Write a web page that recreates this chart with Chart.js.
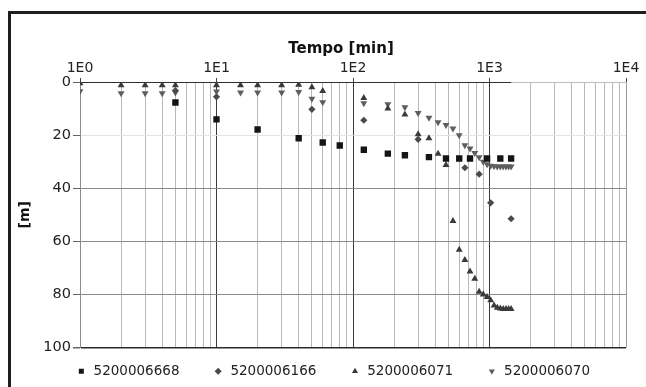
<!DOCTYPE html>
<html>
<head>
<meta charset="utf-8">
<script src="https://cdn.jsdelivr.net/npm/chart.js@4.4.1/dist/chart.umd.min.js"></script>
<style>
  html, body { margin: 0; padding: 0; background: #fff; overflow: hidden; }
  #frame { position: absolute; left: 8px; top: 11px; width: 720px; height: 420px; border: 3px solid #1e1e1e; }
  #chart { position: absolute; left: 0; top: 0; }
</style>
</head>
<body>
<div id="frame"></div>
<canvas id="chart" width="682" height="388"></canvas>
<script>
// well ids (legend)
const seriesNames = ['5200006668', '5200006166', '5200006071', '5200006070'];

// time [min] and depth [m]
const timeA = [5, 10, 20, 40, 60, 80, 120, 180, 240, 360, 480, 600, 720, 960, 1200, 1440];
const depthA = [7.7, 14.1, 17.9, 21.2, 22.8, 23.9, 25.5, 27, 27.6, 28.3, 28.8, 28.8, 28.8, 28.8, 28.8, 28.8];

const timeB = [5, 10, 50, 120, 300, 660, 840, 1020, 1440];
const depthB = [3.2, 5.6, 10.3, 14.4, 21.6, 32.3, 34.7, 45.5, 51.5];

const timeC = [1, 2, 3, 4, 5, 10, 15, 20, 30, 40, 50, 60, 120, 180, 240, 300, 360, 420, 480, 540,
  600, 660, 720, 780, 840, 900, 960, 1020, 1080, 1140, 1200, 1260, 1320, 1380, 1440];
const depthC = [0.5, 1.2, 1.2, 1.2, 1.2, 1.2, 1.2, 1.2, 1.2, 1.0, 2.0, 3.4, 6.0, 10.0, 12.2, 19.7, 21.2, 27.0, 31.3, 52.4,
  63.2, 67.0, 71.4, 74.1, 79.0, 80.0, 81.0, 82.2, 84.2, 85.0, 85.3, 85.5, 85.5, 85.5, 85.5];

const timeD = [1, 2, 3, 4, 5, 10, 15, 20, 30, 40, 50, 60, 120, 180, 240, 300, 360, 420, 480, 540,
  600, 660, 720, 780, 840, 900, 960, 1020, 1080, 1140, 1200, 1260, 1320, 1380, 1440];
const depthD = [3.5, 4.2, 4.2, 4.2, 4.0, 3.6, 4.0, 4.0, 4.0, 3.8, 6.3, 7.6, 8.0, 8.4, 9.5, 11.7, 13.5, 15.2, 16.2, 17.5,
  20.1, 23.8, 25.0, 26.7, 28.3, 30.0, 31.0, 31.5, 31.7, 31.8, 31.8, 31.8, 31.8, 31.8, 31.8];

// ground level line
const surfaceTime = [1, 1440];
const surfaceDepth = [0, 0];

// axes
const xDecades = [1, 10, 100, 1000];
const xSteps = [1, 2, 3, 4, 5, 6, 7, 8, 9];
const xMax = 10000;
const xTickLabels = ['1E0', '1E1', '1E2', '1E3', '1E4'];
const yTicks = [0, 20, 40, 60, 80, 100];

const xGrid = [];
xDecades.forEach(d => xSteps.forEach(s => xGrid.push(d * s)));
xGrid.push(xMax);

const points = (t, d) => t.map((x, i) => ({ x, y: d[i] }));
const isDecade = v => Math.abs(Math.log10(v) - Math.round(Math.log10(v))) < 1e-9;

Chart.defaults.font.family = 'DejaVu Sans';
Chart.defaults.color = '#222';

const legendGap = '\u2003\u2009';

new Chart(document.getElementById('chart'), {
  type: 'scatter',
  data: {
    datasets: [
      { label: seriesNames[0], data: points(timeA, depthA), pointStyle: 'rect', pointRadius: 4.5,
        backgroundColor: '#141414', borderWidth: 0, pointBorderWidth: 0 },
      { label: seriesNames[1], data: points(timeB, depthB), pointStyle: 'rectRot', pointRadius: 3.6,
        backgroundColor: '#4a4a4a', borderWidth: 0, pointBorderWidth: 0 },
      { label: seriesNames[2], data: points(timeC, depthC), pointStyle: 'triangle', pointRadius: 4,
        backgroundColor: '#3a3a3a', borderWidth: 0, pointBorderWidth: 0 },
      { label: seriesNames[3], data: points(timeD, depthD), pointStyle: 'triangle', pointRotation: 180, pointRadius: 4,
        backgroundColor: '#5e5e5e', borderWidth: 0, pointBorderWidth: 0 },
      { label: '', type: 'line', data: points(surfaceTime, surfaceDepth), showLine: true,
        borderColor: '#303030', borderWidth: 2, pointRadius: 0 }
    ]
  },
  options: {
    responsive: false,
    animation: false,
    layout: { padding: 0 },
    plugins: {
      title: {
        display: true,
        text: 'Tempo [min]',
        color: '#111',
        font: { size: 15, weight: 'bold' },
        padding: { top: 40, bottom: 1.2 }
      },
      legend: {
        position: 'bottom',
        labels: {
          usePointStyle: true,
          boxWidth: 11,
          boxHeight: 5,
          padding: 17,
          color: '#222',
          font: { size: 13.5 },
          generateLabels(chart) {
            const items = Chart.defaults.plugins.legend.labels.generateLabels(chart);
            return items.filter(it => it.text).map(it => Object.assign(it, { text: it.text + legendGap }));
          }
        }
      },
      tooltip: { enabled: false }
    },
    scales: {
      x: {
        type: 'logarithmic',
        position: 'top',
        min: 1,
        max: xMax,
        afterBuildTicks: s => { s.ticks = xGrid.map(v => ({ value: v })); },
        ticks: {
          autoSkip: false,
          maxRotation: 0,
          padding: 1,
          color: '#222',
          font: { size: 14 },
          callback: v => isDecade(v) ? xTickLabels[Math.round(Math.log10(v))] : ''
        },
        grid: {
          color: c => {
            const v = c.tick.value;
            if (v === 1) return '#8c8c8c';
            if (v === xMax) return '#9a9a9a';
            return isDecade(v) ? '#3a3a3a' : '#b8b8b8';
          },
          tickLength: 4,
          tickColor: c => isDecade(c.tick.value) ? '#444' : 'rgba(0,0,0,0)'
        },
        border: { color: '#bdbdbd' }
      },
      y: {
        min: 0,
        max: 100,
        reverse: true,
        afterFit: s => { s.width = 80; },
        afterBuildTicks: s => { s.ticks = yTicks.map(v => ({ value: v })); },
        ticks: { padding: 2, color: '#222', font: { size: 14.5 } },
        grid: {
          color: c => {
            const v = c.tick.value;
            if (v === 0) return '#bdbdbd';
            if (v === 100) return '#2a2a2a';
            if (v === 20) return '#e2e2e2';
            return '#8a8a8a';
          },
          lineWidth: c => c.tick.value === 100 ? 1.5 : 1,
          tickLength: 7,
          tickColor: '#666'
        },
        border: { color: '#8c8c8c' },
        title: {
          display: true,
          text: '[m]',
          color: '#111',
          font: { size: 14, weight: 'bold' },
          padding: { top: 16.6, bottom: 0 }
        }
      },
      yR: {
        position: 'right',
        display: true,
        grid: { display: false },
        border: { display: false },
        ticks: { display: false },
        afterFit: s => { s.width = 56; }
      }
    }
  }
});
</script>
</body>
</html>
